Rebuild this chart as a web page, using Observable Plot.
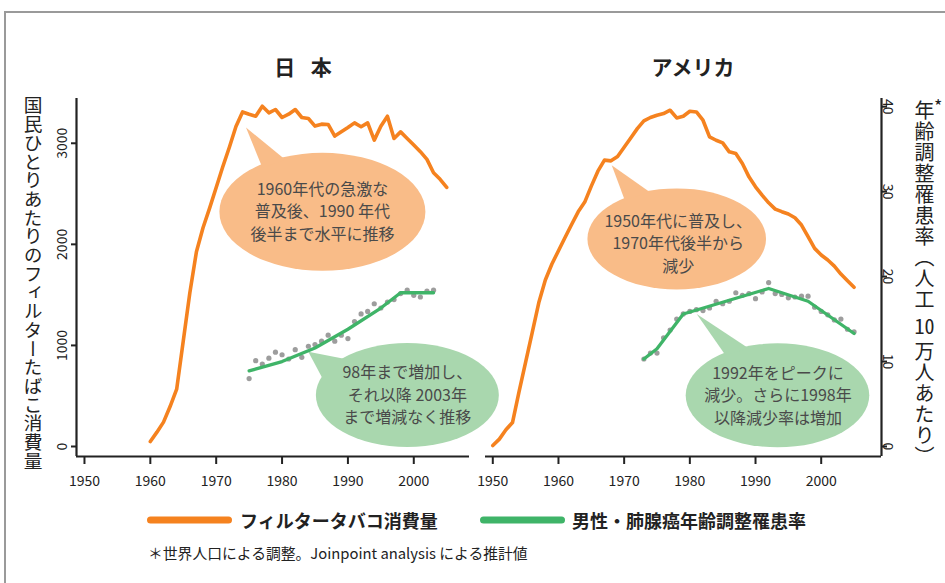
<!DOCTYPE html>
<html><head><meta charset="utf-8">
<script src="https://cdn.jsdelivr.net/npm/d3@7"></script>
<script src="https://cdn.jsdelivr.net/npm/@observablehq/plot@0.6"></script>
<style>
body{margin:0;background:#fff;}
#wrap{position:relative;width:945px;height:583px;overflow:hidden;font-family:"Noto Sans CJK JP","Noto Sans",sans-serif;color:#222;background:#fff;}
#wrap svg{position:absolute;left:0;top:0;}
.abs{position:absolute;white-space:nowrap;line-height:1;}
.frame{position:absolute;left:4px;top:11px;right:-10px;bottom:-10px;border-top:2.5px solid #9a9a9a;border-left:2.5px solid #9a9a9a;}
.title{font-size:21px;font-weight:700;transform:translate(-50%,-50%);}
.vt{writing-mode:vertical-rl;}
.tcy{text-combine-upright:all;}
.leg{font-size:18px;font-weight:700;transform:translateY(-50%);}
.bar{height:7px;border-radius:3.5px;transform:translateY(-50%);}
</style></head>
<body><div id="wrap">
<div class="frame"></div>
<div class="abs title" style="left:304px;top:66px;letter-spacing:2px">日&nbsp;&nbsp;本</div>
<div class="abs title" style="left:693px;top:66px">アメリカ</div>
<div class="abs vt" style="left:23.5px;top:96px;font-size:18.7px;line-height:19px">国民ひとりあたりのフィルターたばこ消費量</div>
<div class="abs vt" style="left:914px;top:100px;font-size:20px;line-height:20px;letter-spacing:1px">年齢調整罹患率（人工 <span class="tcy">10</span> 万人あたり）</div>
<div class="abs" style="left:934px;top:96px;font-size:18px">*</div>
<div class="abs bar" style="left:147px;top:520px;width:85px;background:#F5821F"></div>
<div class="abs leg" style="left:240px;top:520px">フィルタータバコ消費量</div>
<div class="abs bar" style="left:480px;top:520px;width:85px;background:#3FB468"></div>
<div class="abs leg" style="left:572px;top:520px">男性・肺腺癌年齢調整罹患率</div>
<div class="abs" style="left:148px;top:553px;font-size:14.8px;transform:translateY(-50%)">＊世界人口による調整。Joinpoint analysis による推計値</div>
</div>
<script>
// ---- data ----
const jpConsYears = [1960,1961,1962,1963,1964,1965,1966,1967,1968,1969,1970,1971,1972,1973,1974,1975,1976,1977,1978,1979,1980,1981,1982,1983,1984,1985,1986,1987,1988,1989,1990,1991,1992,1993,1994,1995,1996,1997,1998,1999,2000,2001,2002,2003,2004,2005];
const jpConsValues = [49,142,241,395,567,1044,1522,1927,2164,2359,2563,2767,2961,3166,3310,3287,3268,3367,3301,3334,3255,3288,3334,3255,3245,3170,3189,3186,3071,3113,3156,3202,3163,3202,3031,3169,3268,3048,3113,3048,2982,2917,2841,2709,2643,2564];
const jpRateYears = [1975,1976,1977,1978,1979,1980,1981,1982,1983,1984,1985,1986,1987,1988,1989,1990,1991,1992,1993,1994,1995,1996,1997,1998,1999,2000,2001,2002,2003];
const jpRateValues = [8.0,10.1,9.7,10.4,11.1,10.8,10.3,11.4,10.5,11.8,12.0,12.4,13.1,12.4,13.1,12.7,14.7,15.6,15.9,16.8,16.3,17.0,17.3,18.0,18.4,17.8,17.6,18.3,18.4];
const jpTrendYears = [1975,1980,1985,1990,1995,1998,2003];
const jpTrendValues = [8.9,10.0,11.6,13.8,16.3,18.1,18.1];

const usConsYears = [1950,1951,1952,1953,1954,1955,1956,1957,1958,1959,1960,1961,1962,1963,1964,1965,1966,1967,1968,1969,1970,1971,1972,1973,1974,1975,1976,1977,1978,1979,1980,1981,1982,1983,1984,1985,1986,1987,1988,1989,1990,1991,1992,1993,1994,1995,1996,1997,1998,1999,2000,2001,2002,2003,2004,2005];
const usConsValues = [10,73,165,237,544,834,1127,1422,1647,1805,1937,2068,2197,2322,2418,2576,2724,2833,2826,2869,2960,3053,3145,3221,3255,3277,3294,3327,3251,3267,3317,3310,3228,3063,3030,3004,2915,2899,2800,2668,2569,2487,2411,2349,2323,2300,2263,2191,2076,1960,1895,1845,1785,1706,1640,1575];
const usRateYears = [1973,1974,1975,1976,1977,1978,1979,1980,1981,1982,1983,1984,1985,1986,1987,1988,1989,1990,1991,1992,1993,1994,1995,1996,1997,1998,1999,2000,2001,2002,2003,2004,2005];
const usRateValues = [10.3,11.0,11.0,12.8,13.7,15.0,15.6,15.9,16.1,16.0,16.3,17.1,16.8,17.1,18.1,17.8,18.0,17.4,18.2,19.3,18.0,17.9,17.5,17.6,17.7,17.7,16.4,15.9,15.5,14.9,15.0,13.8,13.5];
const usTrendYears = [1973,1975,1979,1992,1998,2005];
const usTrendValues = [10.3,11.5,15.6,18.6,17.1,13.3];

const xTicks = [1950,1960,1970,1980,1990,2000];
const consTicks = [0,1000,2000,3000];
const rateTicks = [0,10,20,30,40];

// ---- styling / layout ----
const ORANGE = "#F5821F", GREEN = "#3FB468", DOT = "#9d9d9d";
const BUB_OR = "#F9BC88", BUB_GR = "#A9D7AE";
const W = 945, H = 583;
const K = 84.05; // consumption units per rate unit (dual axis)
const yDomain = [-99, 3443];

const rows = (ys, vs, f = 1) => ys.map((year, i) => ({year, value: vs[i] * f}));

const bubblesJP = [
  {year:1986.2, value:2317, rx:103, ry:59, fill:BUB_OR, tipYear:1974.6, tipValue:3151, base:[[-60,-44],[-37,-52]], dx:0, dy:0,
   lines:["1960年代の急激な","普及後、1990 年代","後半まで水平に推移"]},
  {year:1999.1, value:504, rx:91.5, ry:52, fill:BUB_GR, tipYear:1984.06, tipValue:932, base:[[-84,-15],[-62,-36]], dx:0, dy:0,
   lines:["98年まで増加し、","それ以降 2003年","まで増減なく推移"]}
];
const bubblesUS = [
  {year:1978.08, value:2049, rx:89.3, ry:50.5, fill:BUB_OR, tipYear:1968.18, tipValue:2778, base:[[-52,-39],[-27,-47]], dx:1.5, dy:5,
   lines:["1950年代に普及し、","1970年代後半から","減少"]},
  {year:1993.42, value:501, rx:91.8, ry:52, fill:BUB_GR, tipYear:1981.12, tipValue:1305, base:[[-52,-40],[-29,-47]], dx:0.5, dy:0.5,
   lines:["1992年をピークに","減少。さらに1998年","以降減少率は増加"]}
];

function bubbleMark(list) {
  return (index, scales) => {
    const g = d3.create("svg:g");
    for (const b of list) {
      const cx = scales.x(b.year), cy = scales.y(b.value);
      const tx = scales.x(b.tipYear), ty = scales.y(b.tipValue);
      g.append("ellipse").attr("cx", cx).attr("cy", cy).attr("rx", b.rx).attr("ry", b.ry).attr("fill", b.fill);
      g.append("path").attr("fill", b.fill)
        .attr("d", `M${tx},${ty}L${cx + b.base[0][0]},${cy + b.base[0][1]}L${cx + b.base[1][0]},${cy + b.base[1][1]}Z`);
      const t = g.append("text").attr("text-anchor", "middle").attr("fill", "#4a4a4a")
        .attr("font-size", 16).attr("font-family", '"Noto Sans CJK JP", sans-serif');
      b.lines.forEach((s, i) => t.append("tspan").attr("x", cx + b.dx).attr("y", cy + b.dy + (i - 1) * 22.5).attr("dy", "0.35em").text(s));
    }
    return g.node();
  };
}

function panel({ml, mr, xDomain, cons, rate, trend, bubbles, side}) {
  const marks = [
    bubbleMark(bubbles),
    Plot.ruleY([yDomain[0]], {stroke: "#222", strokeWidth: 2.2}),
    Plot.axisX({ticks: xTicks, tickFormat: d => String(d), tickSize: 8, tickPadding: 12, strokeWidth: 2, label: null, fontSize: 14}),
  ];
  if (side === "left") {
    marks.push(Plot.ruleX([xDomain[0]], {stroke: "#222", strokeWidth: 2.2}));
    marks.push(Plot.axisY({ticks: consTicks, tickFormat: d => String(d), tickSize: 5, tickPadding: 5, tickRotate: -90, strokeWidth: 2, label: null, fontSize: 14}));
  } else {
    marks.push(Plot.ruleX([xDomain[1]], {stroke: "#222", strokeWidth: 2.2}));
    marks.push(Plot.axisY({anchor: "right", ticks: rateTicks.map(v => v * K), tickFormat: d => String(Math.round(d / K)),
      tickSize: 5, tickPadding: 6, tickRotate: 90, strokeWidth: 2, label: null, fontSize: 14}));
  }
  marks.push(
    Plot.dot(rate, {x: "year", y: "value", r: 2.6, fill: DOT, stroke: "none"}),
    Plot.line(trend, {x: "year", y: "value", stroke: GREEN, strokeWidth: 3.3, strokeLinejoin: "round"}),
    Plot.line(cons, {x: "year", y: "value", stroke: ORANGE, strokeWidth: 3.6, strokeLinejoin: "round"})
  );
  const svg = Plot.plot({
    width: W, height: H,
    marginLeft: ml, marginRight: mr, marginTop: 98, marginBottom: H - 456,
    x: {domain: xDomain, label: null},
    y: {domain: yDomain, label: null},
    style: {background: "transparent", overflow: "visible", fontFamily: '"Noto Sans CJK JP", sans-serif', fontSize: "14px", color: "#222"},
    marks
  });
  svg.style.position = "absolute";
  svg.style.left = "0px";
  svg.style.top = "0px";
  return svg;
}

const wrap = document.getElementById("wrap");
wrap.appendChild(panel({
  ml: 76, mr: W - 469, xDomain: [1948.79, 2008.46], side: "left",
  cons: rows(jpConsYears, jpConsValues), rate: rows(jpRateYears, jpRateValues, K),
  trend: rows(jpTrendYears, jpTrendValues, K), bubbles: bubblesJP
}));
wrap.appendChild(panel({
  ml: 485, mr: W - 881, xDomain: [1948.89, 2009.18], side: "right",
  cons: rows(usConsYears, usConsValues), rate: rows(usRateYears, usRateValues, K),
  trend: rows(usTrendYears, usTrendValues, K), bubbles: bubblesUS
}));
</script>
</body></html>
